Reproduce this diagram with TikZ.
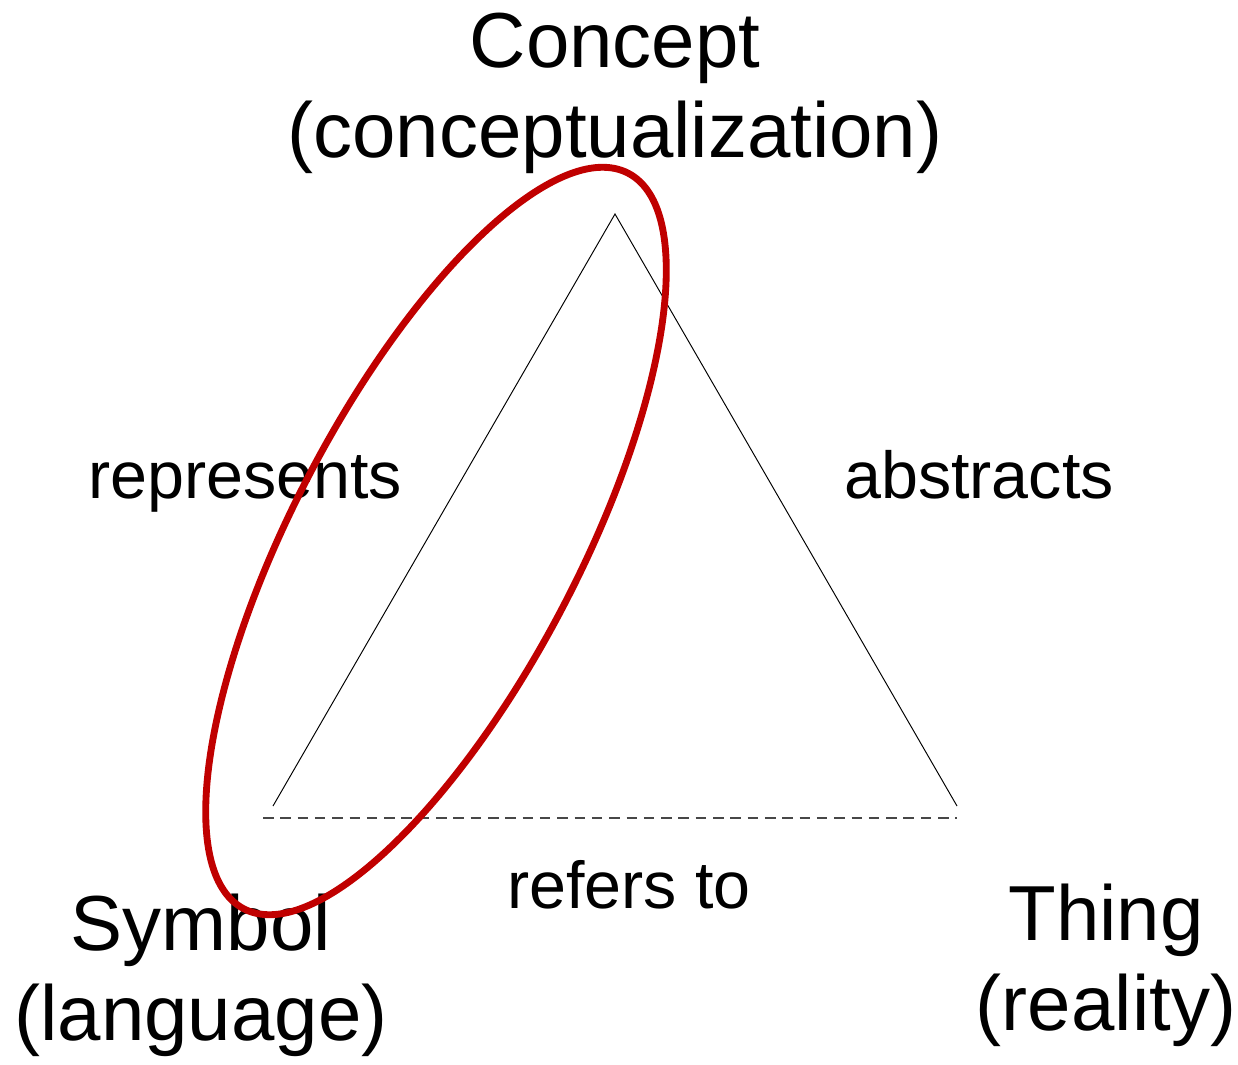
\documentclass[tikz,border=0pt]{standalone}
\usepackage{fontspec}
\setmainfont{Liberation Sans}
\usetikzlibrary{calc}
\tikzset{
  corner/.style={
    anchor = base,
    align = center,
    inner sep = 0,
    font = \fontsize{44.4}{51}\selectfont
  },
  relation/.style={
    anchor = base,
    inner sep = 0,
    font = \fontsize{37.8}{44}\selectfont
  },
  side/.style={
    line width = 0.55pt
  },
  refline/.style={
    draw = black!72,
    line width = 1.4pt,
    dash pattern = on 6pt off 3.85pt
  },
  focus/.style={
    draw = {rgb,255:red,192;green,0;blue,0},
    line width = 3.9pt
  }
}
\begin{document}
\begin{tikzpicture}
            \useasboundingbox (0,0) rectangle (24.76,-21.3);
            % triangle corners
            \coordinate (c) at (12.3,-4.28);
            \coordinate (s) at (5.46,-16.12);
            \coordinate (t) at (19.14,-16.12);
            \coordinate (s') at (5.26,-16.36);
            \coordinate (t') at (19.14,-16.36);
            \draw[side] (s) -- (c) -- (t);
            \draw[refline] (s') -- (t');
            % labels (base = last line)
            \node[corner] (concept) at (12.3,-3.14) {Concept\\(conceptualization)};
            \node[corner] (symbol) at (4.02,-20.8) {Symbol\\(language)};
            \node[corner] (thing) at (22.12,-20.6) {Thing\\(reality)};
            \node[relation] (rep) at (4.9,-9.96) {represents};
            \node[relation] (abs) at (19.58,-9.96) {abstracts};
            \node[relation] (ref) at (12.58,-18.16) {refers to};
            % highlighted side
            \draw[focus] (8.72,-10.82) ellipse[x radius=8.3, y radius=2.86, rotate=62.4];
        \end{tikzpicture}
\end{document}
